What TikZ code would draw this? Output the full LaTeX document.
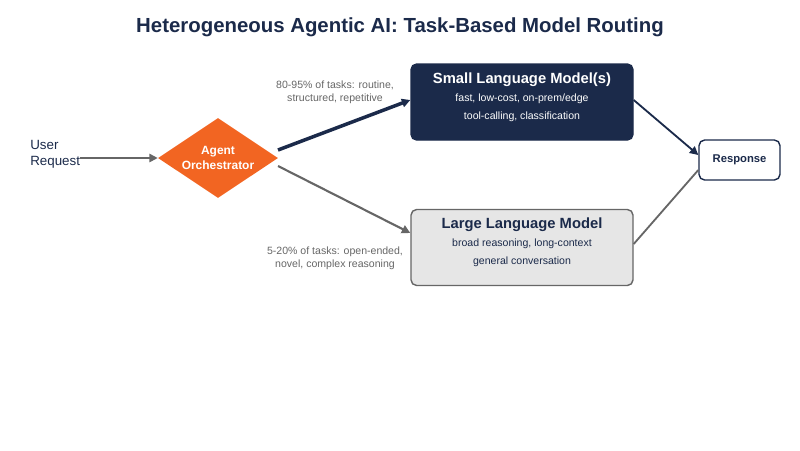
\documentclass[tikz,border=0pt]{standalone}
\usepackage{fontspec}
\setmainfont{Liberation Sans}
\usetikzlibrary{shapes.geometric}
\usetikzlibrary{arrows.meta}
\usetikzlibrary{positioning}
\definecolor{navy}{HTML}{1B2A4A}
\definecolor{orch}{HTML}{F26522}
\definecolor{lgray}{HTML}{E6E6E6}
\definecolor{dgray}{HTML}{666666}
\begin{document}
\begin{tikzpicture}[x=0.025cm,y=-0.025cm,>={Triangle[length=6pt,width=6pt]},
    model box/.style={rectangle,rounded corners=4pt,minimum width=222*0.025cm,minimum height=76*0.025cm,line width=1pt},
    small text/.style={font=\fontsize{7.5}{9.5}\selectfont,align=center},
    tag text/.style={font=\fontsize{7.5}{9}\selectfont,text=dgray,align=center}]
  \useasboundingbox (0,0) rectangle (800,450);
  \node[font=\bfseries\fontsize{14.5}{17}\selectfont,text=navy] (title) at (400,27) {Heterogeneous Agentic AI: Task-Based Model Routing};
  % input and router
  \node[font=\fontsize{9.5}{11.5}\selectfont,align=left,anchor=west,text=navy,inner sep=0pt] (req) at (30,154) {User\\Request};
  \node[diamond,fill=orch,minimum width=120*0.025cm,minimum height=80*0.025cm,inner sep=0pt,aspect=1.5] (orch) at (218,158) {};
  \node[font=\bfseries\fontsize{8.5}{10.5}\selectfont,text=white,align=center] at (orch) {Agent\\Orchestrator};
  \coordinate (reqend) at (80,158);
  \coordinate (up) at (278,150);
  \coordinate (down) at (278,166);
  % models
  \node[model box,fill=navy,draw=navy] (slm) at (522,102) {};
  \node[font=\bfseries\fontsize{10.5}{12}\selectfont,text=white] at (522,80) {Small Language Model(s)};
  \node[small text,text=white] at (522,108) {fast, low-cost, on-prem/edge\\[3pt]tool-calling, classification};
  \node[model box,fill=lgray,draw=dgray] (llm) at (522,247.5) {};
  \node[font=\bfseries\fontsize{10.5}{12}\selectfont,text=navy] at (522,225) {Large Language Model};
  \node[small text,text=navy] at (522,253) {broad reasoning, long-context\\[3pt]general conversation};
  \node[rectangle,rounded corners=4pt,draw=navy,fill=white,line width=1pt,minimum width=81*0.025cm,minimum height=40*0.025cm,font=\bfseries\fontsize{8}{10}\selectfont,text=navy] (resp) at (739.5,160) {Response};
  % connectors
  \draw[->,dgray,line width=1.2pt] (reqend) -- (orch.west);
  \draw[->,navy,line width=2.5pt] (up) -- (slm.west |- 0,100);
  \draw[->,dgray,line width=1.5pt] (down) -- (llm.west |- 0,233);
  \draw[->,navy,line width=1.3pt] (slm.east |- 0,100) -- (resp.west |- 0,155);
  \draw[dgray,line width=1.3pt] (llm.east |- 0,244) -- (resp.west |- 0,170);
  \node[tag text] at (335,92) {80-95\% of tasks: routine,\\structured, repetitive};
  \node[tag text] at (335,258) {5-20\% of tasks: open-ended,\\novel, complex reasoning};
\end{tikzpicture}
\end{document}
